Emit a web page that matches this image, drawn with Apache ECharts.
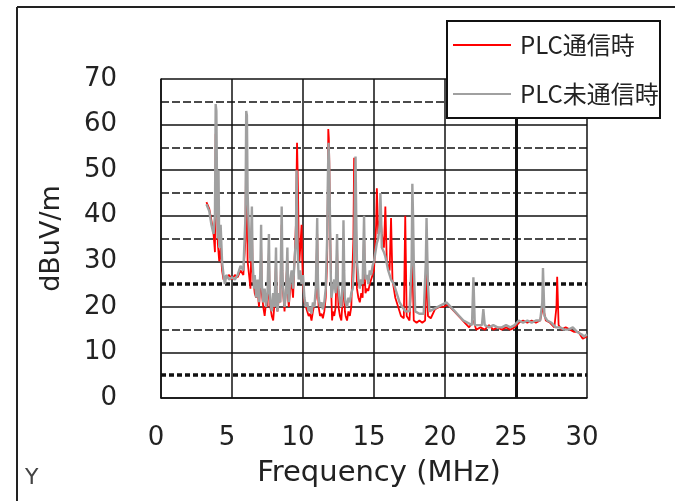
<!DOCTYPE html>
<html>
<head>
<meta charset="utf-8">
<script src="https://cdn.jsdelivr.net/npm/echarts@6/dist/echarts.min.js"></script>
<style>
html,body{margin:0;padding:0;background:#fff;}
#c{width:675px;height:501px;}
</style>
</head>
<body>
<div id="c"></div>
<script>
// ---- data (frequency MHz, level dBuV/m) ----
const seriesNames = ['PLC通信時', 'PLC未通信時'];
const xTicks = [0, 5, 10, 15, 20, 25, 30];
const yTicks = [0, 10, 20, 30, 40, 50, 60, 70];

const plcOn = [
  [3.2,43],[3.4,41.5],[3.55,39],[3.7,36],[3.8,32],[3.85,58],[3.9,50],[4.0,34],[4.1,30],[4.2,33],
  [4.3,28],[4.4,26],[4.6,26.5],[4.8,27],[5.0,26],[5.2,27],[5.4,26.5],[5.6,28],[5.8,27],[5.95,35],
  [6.0,58],[6.05,50],[6.1,30],[6.2,27],[6.3,24],[6.4,38],[6.45,28],[6.5,26],[6.6,23],[6.7,22],
  [6.8,24],[6.9,20],[7.0,25],[7.05,33],[7.1,23],[7.2,20],[7.3,18],[7.4,21],[7.5,20],[7.6,32],
  [7.65,22],[7.7,20],[7.8,18],[7.9,17],[8.0,21],[8.1,30],[8.15,21],[8.2,19],[8.3,22],[8.4,21],
  [8.5,38],[8.55,26],[8.6,23],[8.7,19],[8.8,19],[8.9,30],[8.95,22],[9.0,20],[9.1,24],[9.2,25],
  [9.3,22],[9.4,30],[9.5,38],[9.58,56],[9.62,50],[9.65,45],[9.7,33],[9.75,30],[9.85,30],[9.9,38],
  [9.95,30],[10.0,25],[10.1,21],[10.2,20],[10.3,19],[10.4,18],[10.5,18.5],[10.6,17],[10.7,19],[10.8,19],
  [10.9,22],[11.0,36],[11.05,24],[11.1,20],[11.2,18],[11.3,18.5],[11.4,17.5],[11.5,19],[11.6,22],[11.7,30],
  [11.75,45],[11.78,59],[11.82,57],[11.85,52],[11.9,38],[11.95,30],[12.0,22],[12.05,17],[12.1,19],[12.2,18],
  [12.3,20],[12.4,33],[12.45,24],[12.5,20],[12.6,18],[12.7,17],[12.8,22],[12.85,35],[12.9,25],[12.95,19],
  [13.0,18],[13.1,17],[13.2,19],[13.3,18],[13.4,20],[13.5,20],[13.55,35],[13.6,52.7],[13.65,50],[13.7,45],
  [13.75,35],[13.8,24],[13.9,22],[14.0,21],[14.1,23],[14.2,22],[14.3,36],[14.35,27],[14.4,23],[14.5,24],
  [14.6,23.5],[14.7,25],[14.8,26],[14.9,27],[15.0,28],[15.15,38],[15.2,46],[15.3,36],[15.45,40],[15.55,36],
  [15.7,33],[15.8,42],[15.9,30],[16.1,28],[16.2,39.5],[16.3,26],[16.5,22],[16.7,20],[16.9,18],[17.1,17.5],
  [17.2,40],[17.3,18],[17.5,17],[17.7,30],[17.8,17],[18.0,16.5],[18.2,17],[18.4,16.5],[18.6,17],[18.7,30],
  [18.8,18],[19.0,17.5],[19.3,19.5],[19.6,20],[19.9,20],[20.2,20.5],[20.5,19.5],[20.8,18.5],[21.1,17.5],[21.4,16.5],
  [21.7,15.5],[22.0,17],[22.2,15],[22.5,15.5],[22.8,15],[23.1,16],[23.4,15],[23.7,15.5],[24.0,15],[24.3,15.5],
  [24.6,15],[24.9,15.5],[25.2,16.5],[25.5,17],[25.8,16.5],[26.1,17],[26.4,16.5],[26.7,17],[26.9,20],[27.1,17],
  [27.4,16.5],[27.7,15.5],[27.85,20],[27.9,26.6],[28.0,16],[28.2,15],[28.5,15.5],[28.8,15],[29.1,14.5],[29.4,14.5],
  [29.7,13],[30.0,13.5]
];

const plcOff = [
  [3.2,42.5],[3.4,41],[3.55,38],[3.7,36],[3.8,40],[3.85,64.5],[3.9,63],[3.95,45],[4.0,35],[4.05,50],
  [4.1,33],[4.2,38],[4.3,30],[4.4,27],[4.5,25],[4.6,27],[4.8,26],[5.0,26.5],[5.2,26],[5.4,27],
  [5.6,29],[5.8,28],[5.95,40],[6.0,63],[6.05,62],[6.1,45],[6.2,35],[6.3,30],[6.4,42],[6.45,30],
  [6.55,24],[6.6,27],[6.7,22],[6.8,26],[6.9,21],[7.0,28],[7.05,38],[7.1,25],[7.2,21],[7.3,24],
  [7.4,20],[7.5,23],[7.6,36],[7.65,24],[7.7,21],[7.8,19],[7.9,23],[8.0,20],[8.1,33],[8.15,22],
  [8.2,19],[8.3,23],[8.4,21],[8.5,42],[8.55,28],[8.6,24],[8.7,20],[8.8,23],[8.9,33],[8.95,24],
  [9.0,21],[9.1,26],[9.2,28],[9.3,24],[9.4,30],[9.5,35],[9.55,50],[9.6,36],[9.65,30],[9.7,26],
  [9.8,28],[9.9,25],[10.0,27],[10.1,22],[10.2,20],[10.3,21],[10.4,19],[10.5,20],[10.6,18.5],[10.7,21],
  [10.8,20],[10.9,24],[11.0,39.5],[11.05,26],[11.1,22],[11.2,20],[11.3,21],[11.4,19.5],[11.5,21],[11.6,24],
  [11.7,35],[11.75,48],[11.8,56],[11.85,50],[11.9,40],[11.95,28],[12.0,22],[12.1,24],[12.2,26],[12.3,23],
  [12.4,36],[12.45,26],[12.5,24],[12.6,21],[12.7,20],[12.8,26],[12.85,39],[12.9,28],[12.95,22],[13.0,21],
  [13.1,20],[13.2,22],[13.3,21],[13.4,23],[13.5,24],[13.6,30],[13.65,45],[13.7,53],[13.75,40],[13.8,30],
  [13.9,26],[14.0,24],[14.1,26],[14.2,25],[14.3,40],[14.35,30],[14.4,26],[14.5,27],[14.6,25],[14.7,28],
  [14.8,27],[14.9,29],[15.0,30],[15.2,34],[15.3,35],[15.4,38],[15.45,45],[15.5,40],[15.55,33],[15.7,32],
  [15.8,31],[16.0,28],[16.2,26],[16.4,25],[16.6,23],[16.8,21],[17.0,20],[17.2,19],[17.5,19],[17.65,30],
  [17.7,47],[17.75,40],[17.8,30],[17.9,19],[18.2,18.5],[18.5,18.5],[18.65,30],[18.7,39.5],[18.75,32],[18.8,25],
  [18.9,19],[19.2,19.5],[19.5,20],[19.8,20.5],[20.1,21],[20.4,20],[20.7,19],[21.0,18],[21.3,17],[21.6,16.5],
  [21.9,16],[22.0,26.5],[22.1,16],[22.3,16],[22.6,16],[22.7,19.5],[22.8,16],[23.1,15.5],[23.4,16],[23.7,15.5],
  [24.0,15.5],[24.3,16],[24.6,15.5],[24.9,16],[25.2,17],[25.5,16.5],[25.8,17],[26.1,16.5],[26.4,17],[26.7,17],
  [26.85,21],[26.9,28.5],[27.0,18],[27.2,17],[27.5,16.5],[27.8,15.5],[28.1,15.5],[28.4,15],[28.7,15],[29.0,15.5],
  [29.3,14.5],[29.6,14],[29.8,13.5],[30.0,14]
];

const dashedLevels = [15, 35, 45, 55, 65];
const dottedLevels = [5, 25];
const thickFreq = [25];

const chart = echarts.init(document.getElementById('c'), null, {renderer: 'canvas'});
const ink = '#111';
const txt = '#222';
const font = 'DejaVu Sans, Verdana, sans-serif';

const gridMarks = [];
dashedLevels.forEach(v => gridMarks.push({yAxis: v, lineStyle: {type: [8, 3], width: 1.5, color: ink}}));
dottedLevels.forEach(v => gridMarks.push({yAxis: v, lineStyle: {type: [5, 3], width: 3.5, color: ink}}));
thickFreq.forEach(v => gridMarks.push({xAxis: v, lineStyle: {type: 'solid', width: 3, color: ink}}));

chart.setOption({
  animation: false,
  backgroundColor: '#fff',
  grid: {left: 161, right: 88, top: 79, bottom: 103, containLabel: false},
  xAxis: {
    type: 'value', min: xTicks[0], max: xTicks[xTicks.length - 1], interval: 5,
    name: 'Frequency (MHz)', nameLocation: 'middle', nameGap: 61,
    nameTextStyle: {fontFamily: font, fontSize: 29, color: txt, padding: [0, 0, 0, 10]},
    axisLine: {show: true, lineStyle: {color: ink, width: 1.5}},
    axisTick: {show: false},
    axisLabel: {fontFamily: font, fontSize: 26, color: txt, margin: 27, padding: [0, 10, 0, 0]},
    splitLine: {show: true, lineStyle: {color: ink, width: 1.5}}
  },
  yAxis: {
    type: 'value', min: yTicks[0], max: yTicks[yTicks.length - 1], interval: 10,
    name: 'dBuV/m', nameLocation: 'middle', nameGap: 96,
    nameTextStyle: {fontFamily: font, fontSize: 27, color: txt},
    axisLine: {show: true, lineStyle: {color: ink, width: 1.5}},
    axisTick: {show: false},
    axisLabel: {fontFamily: font, fontSize: 26, color: txt, margin: 44, padding: [0, 0, 10, 0]},
    splitLine: {show: true, lineStyle: {color: ink, width: 1.5}}
  },
  legend: {
    orient: 'vertical', left: 453, top: 33, padding: 0, itemGap: 25, z: 20,
    icon: 'rect', itemWidth: 58, itemHeight: 2,
    data: seriesNames,
    textStyle: {fontFamily: 'Noto Sans CJK JP, sans-serif', fontSize: 24, lineHeight: 24, color: txt, padding: [0, 0, 0, 4]}
  },
  graphic: [
    {type: 'line', shape: {x1: 17, y1: 7, x2: 675, y2: 7}, style: {stroke: '#222', lineWidth: 2}},
    {type: 'line', shape: {x1: 17, y1: 7, x2: 17, y2: 501}, style: {stroke: '#222', lineWidth: 2}},
    {type: 'rect', shape: {x: 447, y: 21, width: 213, height: 97}, style: {fill: '#fff', stroke: '#111', lineWidth: 2}, z: 10},
    {type: 'text', left: 25, top: 467, style: {text: 'Y', fontFamily: font, fontSize: 22, fill: '#444'}}
  ],
  series: [
    {
      name: 'grid', type: 'line', data: [], z: 1, silent: true,
      markLine: {silent: true, z: 2, symbol: 'none', label: {show: false}, data: gridMarks, animation: false}
    },
    {
      name: seriesNames[0], type: 'line', data: plcOn, showSymbol: false, symbol: 'none', z: 3,
      lineStyle: {color: '#ff0000', width: 1.8}, itemStyle: {color: '#ff0000'}
    },
    {
      name: seriesNames[1], type: 'line', data: plcOff, showSymbol: false, symbol: 'none', z: 4,
      lineStyle: {color: '#a0a0a0', width: 2.4}, itemStyle: {color: '#a0a0a0'}
    }
  ]
});
</script>
</body>
</html>
